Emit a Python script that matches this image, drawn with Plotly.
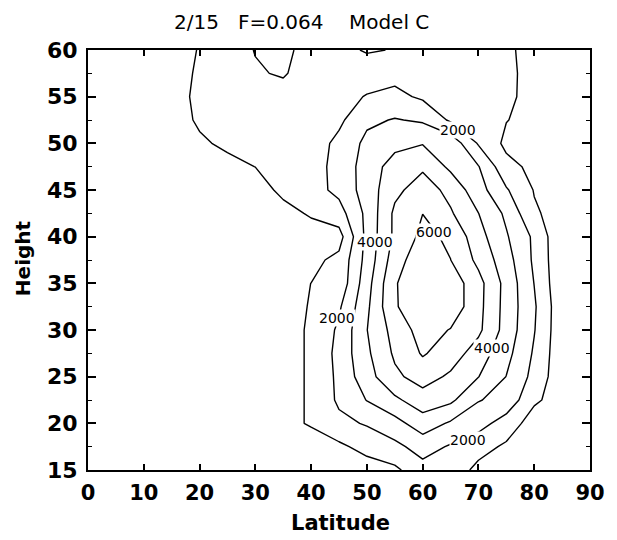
import plotly.graph_objects as go

# Grid of the sampled field: latitude (deg) across, height (km) up
latitude = [0, 5, 10, 15, 20, 25, 30, 35, 40, 45, 50, 55, 60, 65, 70, 75, 80, 85, 90]
height = [15, 17.5, 20, 22.5, 25, 27.5, 30, 32.5, 35, 37.5, 40, 42.5, 45, 47.5, 50, 52.5, 55, 57.5, 60]

# Field values, one list per height level (values at each latitude above)
z_h15_0 = [20, 40, 60, 80, 100, 120, 150, 200, 250, 350, 500, 800, 1650, 1550, 750, 500, 350, 200, 100]
z_h17_5 = [30, 50, 70, 100, 120, 150, 200, 300, 500, 800, 1350, 1750, 2400, 1900, 1350, 850, 500, 300, 150]
z_h20_0 = [60, 100, 150, 200, 250, 350, 500, 700, 1100, 1750, 2088, 2647, 3530, 2868, 2400, 1530, 549, 300, 150]
z_h22_5 = [60, 100, 150, 200, 250, 350, 500, 700, 1100, 2171, 3034, 3803, 4560, 4208, 3050, 2700, 1150, 600, 200]
z_h25_0 = [60, 100, 150, 200, 250, 350, 500, 700, 1100, 2225, 3609, 4800, 5412, 4840, 4021, 2979, 1700, 300, 150]
z_h27_5 = [60, 100, 150, 200, 250, 350, 500, 700, 1100, 2308, 3820, 5156, 6100, 5493, 4530, 3318, 1875, 300, 150]
z_h30_0 = [60, 100, 150, 200, 250, 350, 500, 700, 1100, 2171, 3980, 5375, 6417, 5954, 5214, 3600, 2050, 300, 150]
z_h32_5 = [60, 100, 150, 200, 250, 350, 500, 700, 1050, 1850, 3800, 5943, 6400, 6646, 5300, 3633, 2126, 300, 150]
z_h35_0 = [60, 100, 150, 200, 250, 350, 500, 700, 1005, 1300, 3600, 5950, 6450, 6615, 5333, 3667, 1980, 200, 100]
z_h37_5 = [80, 120, 170, 220, 280, 350, 450, 600, 750, 1250, 3350, 5550, 6675, 6010, 4750, 3411, 1830, 200, 100]
z_h40_0 = [80, 120, 170, 220, 280, 320, 380, 450, 600, 600, 3300, 5200, 6253, 5831, 4375, 3100, 1820, 150, 80]
z_h42_5 = [100, 150, 220, 280, 350, 450, 550, 715, 1100, 1594, 3250, 5200, 5990, 5111, 4010, 2808, 1125, 604, 300]
z_h45_0 = [100, 200, 250, 300, 400, 500, 612, 1200, 1600, 2267, 3450, 4750, 5500, 4700, 3400, 2100, 950, 500, 300]
z_h47_5 = [150, 250, 350, 500, 650, 800, 1008, 1395, 1482, 2407, 3391, 4478, 4842, 3790, 3050, 1300, 764, 450, 250]
z_h50_0 = [150, 250, 400, 550, 895, 1133, 1250, 1380, 1500, 2250, 3250, 3681, 3950, 3700, 1900, 775, 600, 400, 200]
z_h52_5 = [150, 250, 400, 680, 1100, 1200, 1280, 1380, 1550, 1799, 2804, 3060, 2870, 1850, 1500, 1030, 700, 400, 200]
z_h55_0 = [150, 300, 450, 820, 1100, 1200, 1250, 1200, 1400, 1700, 2050, 2250, 1847, 1500, 1300, 1150, 750, 400, 200]
z_h57_5 = [150, 300, 450, 700, 1100, 1200, 1050, 950, 1250, 1400, 1600, 1700, 1550, 1400, 1300, 1200, 700, 400, 200]
z_h60_0 = [150, 300, 450, 750, 1030, 1250, 980, 750, 1400, 1300, 900, 1050, 1400, 1300, 1200, 1150, 700, 400, 200]

# Contour levels drawn
level_start = 1000
level_end = 6000
level_step = 1000

# Inline contour labels: level value and where along its line it sits
label_levels = [2000, 2000, 2000, 4000, 4000, 6000]
label_spots = [(66.3, 51.4), (44.6, 31.3), (68.2, 18.2), (51.4, 39.4), (72.5, 28.1), (62.1, 40.5)]

field = [z_h15_0, z_h17_5, z_h20_0, z_h22_5, z_h25_0, z_h27_5, z_h30_0, z_h32_5,
         z_h35_0, z_h37_5, z_h40_0, z_h42_5, z_h45_0, z_h47_5, z_h50_0, z_h52_5,
         z_h55_0, z_h57_5, z_h60_0]

FONT = "DejaVu Sans"

fig = go.Figure(
    go.Contour(
        x=latitude,
        y=height,
        z=field,
        contours=dict(start=level_start, end=level_end, size=level_step,
                      coloring="lines", showlabels=False),
        line=dict(width=1.4, smoothing=0),
        colorscale=[[0, "black"], [1, "black"]],
        showscale=False,
        hoverinfo="skip",
    )
)

annotations = []
for lvl, (lx, ly) in zip(label_levels, label_spots):
    annotations.append(dict(
        x=lx, y=ly, xref="x", yref="y", text=f"{lvl}", showarrow=False,
        bgcolor="white", borderpad=0,
        font=dict(family=FONT, size=14, color="black"),
    ))

# Title and axis titles
annotations.append(dict(
    x=0.426, y=1.067, xref="paper", yref="paper", showarrow=False,
    xanchor="center", yanchor="middle",
    text="2/15\u00a0\u00a0\u00a0F=0.064\u00a0\u00a0\u00a0\u00a0Model C",
    font=dict(family=FONT, size=20, color="black"),
))
annotations.append(dict(
    x=0.502, y=-0.126, xref="paper", yref="paper", showarrow=False,
    xanchor="center", yanchor="middle",
    text="Latitude", font=dict(family=FONT, size=21, color="black", weight="bold"),
))
annotations.append(dict(
    x=-0.129, y=0.505, xref="paper", yref="paper", showarrow=False, textangle=-90,
    xanchor="center", yanchor="middle",
    text="Height", font=dict(family=FONT, size=20, color="black", weight="bold"),
))

fig.update_layout(
    width=617, height=540,
    margin=dict(l=88, r=17, t=50, b=70, pad=0),
    paper_bgcolor="white", plot_bgcolor="white",
    showlegend=False,
    annotations=annotations,
    xaxis=dict(
        range=[0, 90], tickmode="array", tickvals=list(range(0, 91, 10)),
        ticks="inside", ticklen=6, tickwidth=1.5, tickcolor="black",
        showline=True, linecolor="black", linewidth=2, mirror="ticks",
        showgrid=False, zeroline=False, ticklabelstandoff=3,
        tickfont=dict(family=FONT, size=21, color="black", weight="bold"),
    ),
    yaxis=dict(
        range=[15, 60], tickmode="array", tickvals=list(range(15, 61, 5)),
        ticks="inside", ticklen=8, tickwidth=1.5, tickcolor="black",
        minor=dict(dtick=2.5, ticks="inside", ticklen=4, tickwidth=1.2, tickcolor="black"),
        showline=True, linecolor="black", linewidth=2, mirror="ticks",
        showgrid=False, zeroline=False, ticklabelstandoff=4,
        tickfont=dict(family=FONT, size=22, color="black", weight="bold"),
    ),
)

fig.write_html("out.html")
